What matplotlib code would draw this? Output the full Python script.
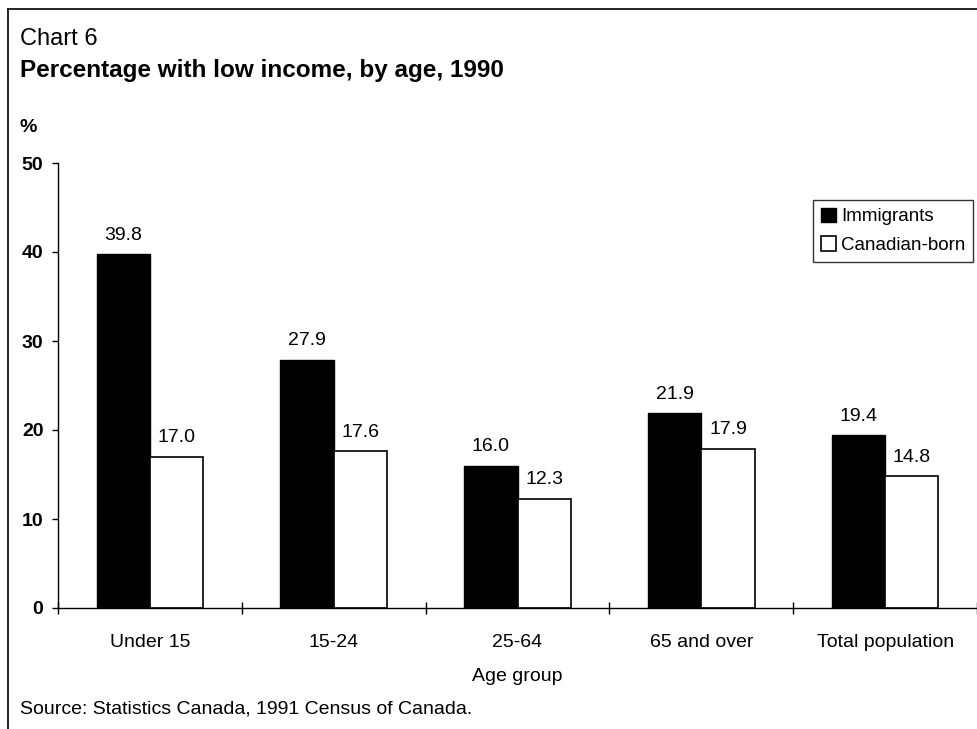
import matplotlib
matplotlib.use("Agg")
import matplotlib.pyplot as plt
from matplotlib.lines import Line2D
import numpy as np

plt.rcParams['font.family'] = ['Liberation Sans', 'DejaVu Sans']

categories = ["Under 15", "15-24", "25-64", "65 and over", "Total population"]
immigrants = [39.8, 27.9, 16.0, 21.9, 19.4]
canadian_born = [17.0, 17.6, 12.3, 17.9, 14.8]
yticks = [0, 10, 20, 30, 40, 50]

W, H = 977, 729
fig = plt.figure(figsize=(W/100, H/100), dpi=100)
ax = fig.add_axes([58/W, 1-608/H, 1-58/W, (608-163)/H])

x = np.arange(len(categories))
bw = 0.29
ax.bar(x - bw/2, immigrants, bw, color='black', edgecolor='black', linewidth=1, label='Immigrants')
ax.bar(x + bw/2, canadian_born, bw, color='white', edgecolor='black', linewidth=1.2, label='Canadian-born')

for xi, v in zip(x - bw/2, immigrants):
    ax.annotate(f"{v:.1f}", (xi, v), xytext=(0, 13.5), textcoords='offset points',
                ha='center', va='center', fontsize=14)
for xi, v in zip(x + bw/2, canadian_born):
    ax.annotate(f"{v:.1f}", (xi, v), xytext=(0, 13.5), textcoords='offset points',
                ha='center', va='center', fontsize=14)

ax.set_xlim(-0.5, len(categories) - 0.5)
ax.set_ylim(0, 50)
ax.set_yticks(yticks)
ax.set_yticklabels([str(t) for t in yticks], fontsize=14, fontweight='bold')
ax.tick_params(axis='y', direction='out', length=4.5, width=1, pad=6)
ax.set_xticks(x)
ax.set_xticklabels(categories, fontsize=14)
ax.tick_params(axis='x', which='major', length=0, pad=19)
ax.set_xticks(np.arange(len(categories) + 1) - 0.5, minor=True)
ax.tick_params(axis='x', which='minor', direction='inout', length=9, width=1)
for s in ['top', 'right']:
    ax.spines[s].set_visible(False)
ax.spines['left'].set_linewidth(1)
ax.spines['bottom'].set_linewidth(1)
ax.set_xlabel("Age group", fontsize=14, labelpad=12)

leg = ax.legend(loc='upper right', bbox_to_anchor=(973/W, 1-200/H), bbox_transform=fig.transFigure,
                frameon=True, fancybox=False, edgecolor='black', fontsize=13.5,
                handlelength=0.8, handleheight=0.8, handletextpad=0.3, borderpad=0.4,
                labelspacing=0.6, borderaxespad=0)
leg.get_frame().set_linewidth(1)

fig.text(20/W, 1-39/H, "Chart 6", fontsize=17, va='center', ha='left')
fig.text(20/W, 1-71/H, "Percentage with low income, by age, 1990", fontsize=17.5,
         fontweight='bold', va='center', ha='left')
fig.text(20/W, 1-127/H, "%", fontsize=14, fontweight='bold', va='center', ha='left')
fig.text(20/W, 1-709/H, "Source: Statistics Canada, 1991 Census of Canada.", fontsize=14,
         va='center', ha='left')

fig.add_artist(Line2D([8/W, 8/W], [0, 1-9/H], transform=fig.transFigure, color='black', linewidth=1.2))
fig.add_artist(Line2D([8/W, 1], [1-9/H, 1-9/H], transform=fig.transFigure, color='black', linewidth=1.2))

fig.savefig("out.png", dpi=100)
